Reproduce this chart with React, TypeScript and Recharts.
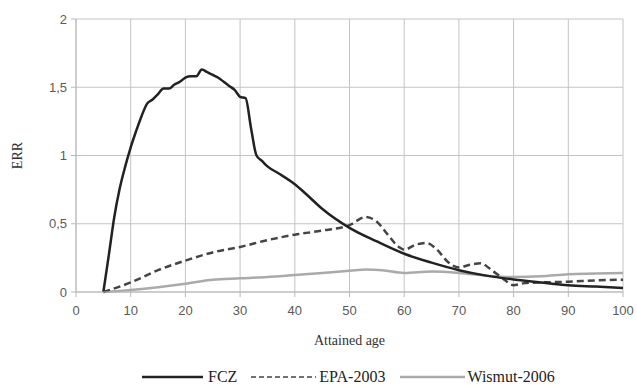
import { LineChart, Line, XAxis, YAxis, CartesianGrid } from 'recharts';

const fczAge = [5, 6, 7, 8, 9, 10, 11, 12, 13, 14, 15, 16, 17, 18, 19, 20, 21, 22, 23, 24, 25, 26, 27, 28, 29, 30, 31, 32, 33, 34, 35, 37, 40, 42, 45, 50, 55, 60, 65, 70, 75, 80, 85, 90, 95, 100];
const fczErr = [0, 0.27, 0.55, 0.76, 0.92, 1.06, 1.18, 1.29, 1.38, 1.41, 1.45, 1.49, 1.49, 1.52, 1.54, 1.57, 1.58, 1.58, 1.63, 1.61, 1.59, 1.57, 1.54, 1.51, 1.48, 1.43, 1.42, 1.2, 1.0, 0.96, 0.92, 0.87, 0.79, 0.72, 0.61, 0.47, 0.37, 0.28, 0.215, 0.16, 0.12, 0.092, 0.07, 0.05, 0.04, 0.03];

const epaAge = [5, 10, 15, 20, 25, 30, 35, 40, 45, 50, 53, 55, 57, 59, 60, 62, 64, 66, 68, 70, 72, 74, 76, 78, 80, 82, 85, 90, 95, 100];
const epaErr = [0, 0.07, 0.16, 0.23, 0.29, 0.33, 0.38, 0.42, 0.45, 0.49, 0.55, 0.515, 0.42, 0.33, 0.31, 0.345, 0.36, 0.31, 0.22, 0.18, 0.2, 0.21, 0.16, 0.1, 0.05, 0.065, 0.07, 0.075, 0.085, 0.09];

const wisAge = [5, 10, 15, 20, 25, 30, 35, 40, 45, 50, 53, 56, 60, 65, 70, 75, 80, 85, 90, 95, 100];
const wisErr = [0, 0.015, 0.035, 0.06, 0.09, 0.1, 0.11, 0.125, 0.14, 0.155, 0.165, 0.16, 0.14, 0.15, 0.14, 0.12, 0.11, 0.115, 0.13, 0.135, 0.14];

const xTicks = [0, 10, 20, 30, 40, 50, 60, 70, 80, 90, 100];
const yTicks = [0, 0.5, 1, 1.5, 2];

const fczData = fczAge.map((a, i) => ({ age: a, err: fczErr[i] }));
const epaData = epaAge.map((a, i) => ({ age: a, err: epaErr[i] }));
const wisData = wisAge.map((a, i) => ({ age: a, err: wisErr[i] }));

const legendItems = [
  { name: 'FCZ', color: '#222', dash: undefined as string | undefined, lineW: 61, gap: 5, after: 14 },
  { name: 'EPA-2003', color: '#444', dash: '5 3', lineW: 65, gap: 3, after: 15 },
  { name: 'Wismut-2006', color: '#aaa', dash: undefined, lineW: 65, gap: 2, after: 0 },
];

const tickStyle = { fill: '#5a5a5a', fontSize: 13, fontFamily: 'Liberation Sans, sans-serif' };

export default function App() {
  return (
    <div style={{ position: 'absolute', left: 0, top: 0, width: 637, height: 385, background: '#fff' }}>
      <LineChart width={637} height={385} margin={{ top: 19, right: 14, bottom: 0, left: 0 }}>
        <CartesianGrid stroke="#c4c4c4" />
        <XAxis
          type="number" dataKey="age" domain={[0, 100]} ticks={xTicks} allowDuplicatedCategory={false}
          height={93} tick={tickStyle} tickSize={5} tickMargin={9}
          stroke="#b8b8b8"
          label={{ value: 'Attained age', position: 'center', dy: 2, fill: '#333', fontSize: 14, fontFamily: 'Liberation Serif, serif' }}
        />
        <YAxis
          type="number" domain={[0, 2]} ticks={yTicks} width={76}
          tick={tickStyle} tickSize={5} tickMargin={4}
          stroke="#b8b8b8"
          tickFormatter={(v: number) => String(v).replace('.', ',')}
          label={{ value: 'ERR', angle: -90, position: 'center', dx: -21, fill: '#333', fontSize: 14, fontFamily: 'Liberation Serif, serif' }}
        />
        <Line data={wisData} dataKey="err" type="monotone" stroke="#aaa" strokeWidth={2.5} dot={false} isAnimationActive={false} />
        <Line data={epaData} dataKey="err" type="monotone" stroke="#444" strokeWidth={2.5} strokeDasharray="7 4" dot={false} isAnimationActive={false} />
        <Line data={fczData} dataKey="err" type="monotone" stroke="#222" strokeWidth={2.5} dot={false} isAnimationActive={false} />
      </LineChart>
      <div style={{ position: 'absolute', left: 142, top: 368, display: 'flex', alignItems: 'center', fontFamily: 'Liberation Serif, serif', fontSize: 16, color: '#222', whiteSpace: 'nowrap' }}>
        {legendItems.map(it => (
          <div key={it.name} style={{ display: 'flex', alignItems: 'center', marginRight: it.after }}>
            <svg width={it.lineW} height={6} style={{ marginRight: it.gap }}>
              <line x1={0} y1={3} x2={it.lineW} y2={3} stroke={it.color} strokeWidth={it.dash ? 1.5 : 2.5} strokeDasharray={it.dash} />
            </svg>
            <span>{it.name}</span>
          </div>
        ))}
      </div>
    </div>
  );
}
